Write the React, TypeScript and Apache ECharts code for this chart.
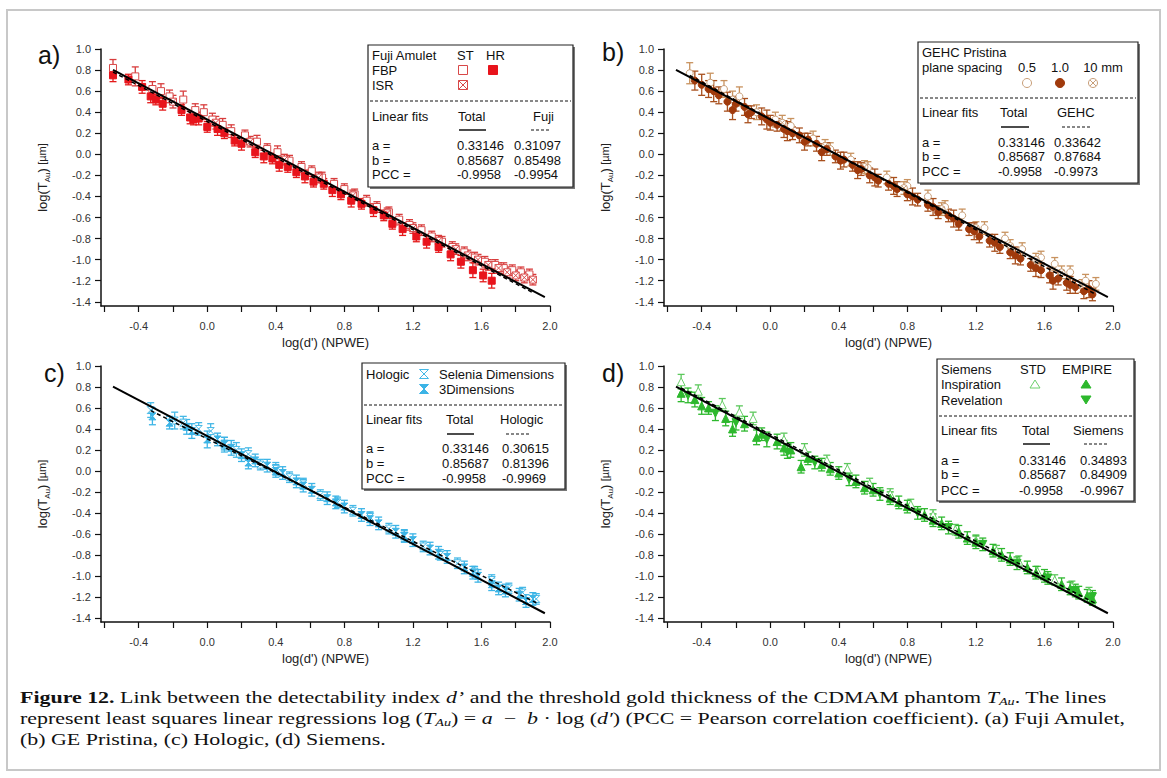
import React, { useEffect, useRef } from 'react';
import * as echarts from 'echarts';

// ---------- axis ticks ----------
const yTicks = [-1.4, -1.2, -1.0, -0.8, -0.6, -0.4, -0.2, 0, 0.2, 0.4, 0.6, 0.8, 1.0];
const xTicks = [-0.6, -0.4, -0.2, 0, 0.2, 0.4, 0.6, 0.8, 1.0, 1.2, 1.4, 1.6, 1.8, 2.0];
const xLabels = [-0.4, 0, 0.4, 0.8, 1.2, 1.6, 2.0];

// ---------- linear fits [a, b, PCC] ----------
const fitTotal = [0.33146, 0.85687, -0.9958];
const fitFuji = [0.31097, 0.85498, -0.9954];
const fitGEHC = [0.33642, 0.87684, -0.9973];
const fitHologic = [0.30615, 0.81396, -0.9969];
const fitSiemens = [0.34893, 0.84909, -0.9967];
const rangeTotal = [-0.55, 1.97];
const rangeFuji = [-0.55, 1.9];
const rangeGEHC = [-0.47, 1.9];
const rangeHologic = [-0.33, 1.92];
const rangeSiemens = [-0.52, 1.9];

// ---------- data [log(d'), log(T_Au), error] ----------
const fujiStFbp = [[-0.55,0.82,0.08],[-0.42,0.74,0.09],[-0.32,0.62,0.07],[-0.27,0.60,0.07],[-0.22,0.55,0.06],[-0.14,0.52,0.08],[-0.07,0.42,0.06],[-0.02,0.40,0.07],[0.03,0.33,0.06],[0.09,0.28,0.06],[0.14,0.22,0.06],[0.22,0.18,0.05],[0.29,0.12,0.06],[0.35,0.05,0.05],[0.41,0.02,0.06],[0.48,-0.06,0.05],[0.55,-0.12,0.05],[0.61,-0.16,0.05],[0.67,-0.22,0.05],[0.74,-0.28,0.05],[0.80,-0.33,0.05],[0.86,-0.38,0.05],[0.93,-0.44,0.05],[0.99,-0.50,0.05],[1.06,-0.55,0.05],[1.12,-0.62,0.05],[1.18,-0.67,0.05],[1.25,-0.72,0.05],[1.31,-0.78,0.05],[1.37,-0.83,0.05],[1.43,-0.88,0.05],[1.50,-0.93,0.05],[1.56,-0.98,0.05],[1.62,-1.02,0.05],[1.68,-1.05,0.05],[1.73,-1.08,0.05],[1.78,-1.10,0.05],[1.83,-1.12,0.05],[1.88,-1.14,0.05]];
const fujiStIsr = [[-0.20,0.50,0.06],[0.05,0.30,0.06],[0.25,0.12,0.05],[0.45,-0.05,0.05],[0.65,-0.22,0.05],[0.85,-0.39,0.05],[1.05,-0.56,0.05],[1.20,-0.70,0.05],[1.35,-0.82,0.05],[1.45,-0.90,0.05],[1.52,-0.96,0.05],[1.58,-1.00,0.05],[1.64,-1.05,0.05],[1.70,-1.08,0.05],[1.75,-1.12,0.05],[1.80,-1.15,0.05],[1.85,-1.17,0.05],[1.90,-1.19,0.05]];
const fujiHrFbp = [[-0.55,0.75,0.06],[-0.46,0.71,0.05],[-0.38,0.64,0.06],[-0.33,0.55,0.06],[-0.30,0.52,0.05],[-0.26,0.48,0.06],[-0.15,0.42,0.05],[-0.10,0.35,0.06],[-0.08,0.33,0.05],[-0.05,0.34,0.06],[0.00,0.26,0.05],[0.06,0.24,0.06],[0.10,0.20,0.05],[0.16,0.13,0.05],[0.20,0.10,0.06],[0.28,0.02,0.05],[0.33,-0.02,0.06],[0.38,-0.04,0.05],[0.42,-0.10,0.06],[0.47,-0.12,0.05],[0.52,-0.17,0.05],[0.57,-0.21,0.06],[0.62,-0.26,0.05],[0.68,-0.28,0.05],[0.73,-0.34,0.06],[0.78,-0.38,0.05],[0.84,-0.44,0.06],[0.90,-0.47,0.05],[0.97,-0.53,0.06],[1.03,-0.58,0.05],[1.08,-0.66,0.05],[1.14,-0.71,0.06],[1.22,-0.78,0.05],[1.28,-0.83,0.06],[1.35,-0.88,0.05],[1.42,-0.95,0.06],[1.48,-1.02,0.06],[1.55,-1.10,0.07],[1.61,-1.15,0.06],[1.66,-1.20,0.07]];

const gehc05 = [[-0.47,0.77,0.1],[-0.35,0.68,0.09],[-0.27,0.62,0.08],[-0.18,0.55,0.09],[-0.08,0.40,0.07],[0.03,0.33,0.07],[0.12,0.27,0.07],[0.25,0.15,0.07],[0.35,0.05,0.06],[0.47,-0.05,0.06],[0.57,-0.13,0.06],[0.68,-0.22,0.06],[0.80,-0.30,0.06],[0.92,-0.40,0.06],[1.02,-0.50,0.06],[1.12,-0.58,0.06],[1.25,-0.70,0.06],[1.37,-0.80,0.06],[1.47,-0.90,0.06],[1.58,-0.98,0.06],[1.66,-1.04,0.06],[1.75,-1.12,0.06],[1.84,-1.20,0.06],[1.90,-1.23,0.06]];
const gehc10mm = [[-0.22,0.52,0.08],[0.07,0.30,0.07],[0.32,0.08,0.06],[0.55,-0.12,0.06],[0.78,-0.32,0.06],[1.00,-0.52,0.06],[1.20,-0.70,0.06],[1.40,-0.87,0.06],[1.55,-1.00,0.06],[1.70,-1.12,0.06],[1.82,-1.25,0.06]];
const gehc10 = [[-0.44,0.70,0.09],[-0.40,0.66,0.1],[-0.36,0.62,0.08],[-0.33,0.60,0.1],[-0.30,0.56,0.08],[-0.25,0.50,0.09],[-0.22,0.42,0.09],[-0.20,0.48,0.07],[-0.15,0.45,0.08],[-0.13,0.38,0.08],[-0.11,0.40,0.06],[-0.05,0.36,0.08],[-0.02,0.33,0.09],[0.00,0.30,0.07],[0.04,0.28,0.06],[0.08,0.24,0.08],[0.10,0.22,0.09],[0.13,0.20,0.06],[0.17,0.18,0.07],[0.20,0.12,0.08],[0.22,0.14,0.06],[0.27,0.10,0.07],[0.30,0.02,0.08],[0.33,0.05,0.06],[0.38,-0.02,0.06],[0.41,-0.06,0.08],[0.43,-0.05,0.07],[0.48,-0.10,0.06],[0.51,-0.15,0.08],[0.53,-0.14,0.06],[0.58,-0.20,0.07],[0.61,-0.22,0.08],[0.63,-0.25,0.06],[0.69,-0.28,0.06],[0.72,-0.30,0.08],[0.74,-0.33,0.07],[0.80,-0.38,0.06],[0.83,-0.40,0.08],[0.86,-0.43,0.06],[0.92,-0.48,0.06],[0.95,-0.50,0.08],[0.98,-0.55,0.06],[1.04,-0.58,0.06],[1.07,-0.61,0.08],[1.10,-0.66,0.06],[1.16,-0.71,0.06],[1.19,-0.73,0.08],[1.22,-0.78,0.06],[1.28,-0.82,0.06],[1.31,-0.84,0.08],[1.34,-0.88,0.06],[1.40,-0.93,0.06],[1.43,-0.96,0.08],[1.46,-0.99,0.06],[1.52,-1.05,0.06],[1.55,-1.08,0.08],[1.58,-1.10,0.07],[1.63,-1.15,0.07],[1.65,-1.20,0.08],[1.68,-1.18,0.06],[1.73,-1.22,0.07],[1.75,-1.24,0.08],[1.78,-1.26,0.06],[1.83,-1.30,0.07],[1.86,-1.28,0.08],[1.88,-1.33,0.06]];

const hologicSelenia = [[-0.33,0.58,0.07],[-0.19,0.48,0.08],[-0.14,0.46,0.06],[-0.05,0.40,0.06],[0.02,0.38,0.07],[0.10,0.25,0.07],[0.17,0.20,0.07],[0.24,0.16,0.06],[0.31,0.06,0.05],[0.40,0.02,0.06],[0.48,-0.06,0.05],[0.56,-0.12,0.05],[0.66,-0.23,0.05],[0.76,-0.30,0.05],[0.85,-0.38,0.05],[0.95,-0.44,0.05],[1.06,-0.55,0.05],[1.15,-0.62,0.05],[1.26,-0.72,0.05],[1.36,-0.80,0.05],[1.46,-0.88,0.05],[1.56,-0.96,0.05],[1.66,-1.04,0.05],[1.76,-1.12,0.05],[1.84,-1.16,0.05],[1.92,-1.22,0.05]];
const hologic3D = [[-0.32,0.52,0.08],[-0.22,0.46,0.06],[-0.12,0.42,0.07],[-0.09,0.38,0.07],[0.00,0.30,0.08],[0.06,0.30,0.06],[0.10,0.26,0.06],[0.14,0.22,0.07],[0.20,0.15,0.06],[0.24,0.08,0.06],[0.28,0.10,0.06],[0.35,0.05,0.06],[0.40,0.00,0.06],[0.44,-0.02,0.06],[0.52,-0.10,0.06],[0.56,-0.14,0.06],[0.61,-0.18,0.06],[0.70,-0.26,0.06],[0.75,-0.30,0.06],[0.80,-0.34,0.06],[0.90,-0.42,0.06],[0.95,-0.46,0.06],[1.00,-0.50,0.06],[1.10,-0.58,0.06],[1.15,-0.62,0.06],[1.20,-0.66,0.06],[1.30,-0.74,0.06],[1.35,-0.78,0.06],[1.40,-0.82,0.06],[1.50,-0.92,0.06],[1.55,-0.97,0.06],[1.58,-1.00,0.06],[1.66,-1.08,0.06],[1.70,-1.12,0.06],[1.74,-1.14,0.06],[1.82,-1.18,0.06],[1.86,-1.24,0.06],[1.90,-1.22,0.06]];

const siemensStdInsp = [[-0.52,0.85,0.07],[-0.42,0.76,0.06],[-0.28,0.63,0.06],[-0.18,0.56,0.06],[-0.10,0.50,0.06],[0.08,0.30,0.06],[0.20,0.20,0.06],[0.33,0.10,0.05],[0.45,0.02,0.05],[0.58,-0.12,0.05],[0.70,-0.22,0.05],[0.82,-0.32,0.05],[0.95,-0.42,0.05],[1.08,-0.56,0.05],[1.20,-0.66,0.05],[1.32,-0.76,0.05],[1.45,-0.86,0.05],[1.56,-0.96,0.05],[1.66,-1.04,0.05],[1.76,-1.10,0.05],[1.86,-1.16,0.05]];
const siemensEmpInsp = [[-0.52,0.74,0.08],[-0.44,0.68,0.07],[-0.40,0.62,0.08],[-0.36,0.60,0.06],[-0.26,0.50,0.07],[-0.22,0.40,0.07],[-0.15,0.45,0.07],[-0.08,0.32,0.07],[-0.05,0.35,0.06],[0.04,0.28,0.07],[0.08,0.22,0.07],[0.12,0.20,0.07],[0.18,0.04,0.06],[0.22,0.12,0.06],[0.30,0.06,0.06],[0.35,0.02,0.06],[0.40,-0.02,0.06],[0.50,-0.10,0.06],[0.55,-0.16,0.06],[0.60,-0.18,0.06],[0.70,-0.26,0.06],[0.75,-0.30,0.06],[0.80,-0.34,0.06],[0.90,-0.42,0.06],[0.95,-0.47,0.06],[1.00,-0.50,0.06],[1.10,-0.58,0.06],[1.15,-0.64,0.06],[1.20,-0.68,0.06],[1.30,-0.76,0.06],[1.35,-0.80,0.06],[1.40,-0.84,0.06],[1.50,-0.92,0.06],[1.55,-0.97,0.06],[1.60,-1.00,0.06],[1.70,-1.08,0.06],[1.75,-1.12,0.06],[1.80,-1.16,0.06],[1.85,-1.19,0.06],[1.88,-1.22,0.06]];
const siemensEmpRev = [[-0.48,0.72,0.07],[-0.32,0.55,0.07],[-0.20,0.46,0.07],[-0.02,0.30,0.07],[0.10,0.18,0.06],[0.26,0.08,0.06],[0.46,-0.08,0.06],[0.64,-0.22,0.06],[0.86,-0.40,0.06],[1.04,-0.54,0.06],[1.24,-0.70,0.06],[1.44,-0.88,0.06],[1.62,-1.02,0.06],[1.78,-1.14,0.06],[1.88,-1.20,0.06]];

// ---------- styles ----------
const SANS = 'Liberation Sans, Arial, sans-serif';
const SERIF = 'Liberation Serif, Times New Roman, serif';
const CROSS_RECT = 'path://M0,0H10V10H0Z M0,0L10,10 M10,0L0,10';
const CROSS_CIRCLE = 'path://M0,5A5,5 0 1,1 10,5A5,5 0 1,1 0,5Z M1.5,1.5L8.5,8.5 M8.5,1.5L1.5,8.5';
const HOURGLASS = 'path://M0,0L10,0L0,10L10,10Z';

const panels = [
  {
    grid: { left: 101, top: 49, width: 449, height: 257 },
    groups: [
      { data: fujiStFbp, symbol: 'rect', size: 7, fill: '#ffffff', stroke: '#d84848', err: '#d83c3c' },
      { data: fujiStIsr, symbol: CROSS_RECT, size: 7, fill: '#ffffff', stroke: '#d84848', err: '#d83c3c' },
      { data: fujiHrFbp, symbol: 'rect', size: 7, fill: '#e8141c', stroke: '#e8141c', err: '#e41a1a' },
    ],
    fit: fitFuji, fitRange: rangeFuji,
  },
  {
    grid: { left: 664, top: 49, width: 449, height: 257 },
    groups: [
      { data: gehc05, symbol: 'circle', size: 7, fill: '#ffffff', stroke: '#c89e78', err: '#c8925e' },
      { data: gehc10mm, symbol: CROSS_CIRCLE, size: 7, fill: '#ffffff', stroke: '#c89e78', err: '#c8925e' },
      { data: gehc10, symbol: 'circle', size: 7, fill: '#a03a0c', stroke: '#a03a0c', err: '#a8501e' },
    ],
    fit: fitGEHC, fitRange: rangeGEHC,
  },
  {
    grid: { left: 101, top: 366, width: 449, height: 256 },
    groups: [
      { data: hologicSelenia, symbol: HOURGLASS, size: 7, fill: '#ffffff', stroke: '#45b8e6', err: '#45b8e6' },
      { data: hologic3D, symbol: HOURGLASS, size: 7, fill: '#3cb4e6', stroke: '#3cb4e6', err: '#3cb4e6' },
    ],
    fit: fitHologic, fitRange: rangeHologic,
  },
  {
    grid: { left: 664, top: 366, width: 449, height: 256 },
    groups: [
      { data: siemensStdInsp, symbol: 'triangle', size: 8, fill: '#ffffff', stroke: '#6ccf6c', err: '#5cc85c' },
      { data: siemensEmpInsp, symbol: 'triangle', size: 8, fill: '#2db82d', stroke: '#2db82d', err: '#2db82d' },
      { data: siemensEmpRev, symbol: 'triangle', rotate: 180, size: 8, fill: '#2db82d', stroke: '#2db82d', err: '#2db82d' },
    ],
    fit: fitSiemens, fitRange: rangeSiemens,
  },
];

const fmt = (v: number) => (Math.abs(v) < 1e-9 ? '0.0' : v.toFixed(1));

function fitLine(fit: number[], range: number[]) {
  return range.map((x) => [x, fit[0] - fit[1] * x]);
}

// ---------- graphic helpers ----------
function txt(x: number, y: number, s: string, align = 'left', size = 13) {
  return {
    type: 'text', x, y, z: 100,
    style: { text: s, fontSize: size, fontFamily: SANS, fill: '#111', align, verticalAlign: 'middle' },
  };
}
function box(x: number, y: number, w: number, h: number) {
  return [
    { type: 'rect', z: 98, shape: { x: x + 2, y: y + 2, width: w, height: h }, style: { fill: '#777' } },
    { type: 'rect', z: 99, shape: { x, y, width: w, height: h }, style: { fill: '#fff', stroke: '#222', lineWidth: 1.2 } },
  ];
}
function hl(x1: number, x2: number, y: number, dash = false, w = 1) {
  return {
    type: 'line', z: 100, shape: { x1, y1: y, x2, y2: y },
    style: { stroke: '#111', lineWidth: w, lineDash: dash ? [3, 2] : null },
  };
}
function sq(cx: number, cy: number, fill: string, stroke: string, cross = false) {
  const s = 4.5;
  const els: any[] = [{ type: 'rect', z: 100, shape: { x: cx - s, y: cy - s, width: 2 * s, height: 2 * s }, style: { fill, stroke, lineWidth: 1 } }];
  if (cross) {
    els.push({ type: 'line', z: 101, shape: { x1: cx - s, y1: cy - s, x2: cx + s, y2: cy + s }, style: { stroke, lineWidth: 1 } });
    els.push({ type: 'line', z: 101, shape: { x1: cx + s, y1: cy - s, x2: cx - s, y2: cy + s }, style: { stroke, lineWidth: 1 } });
  }
  return els;
}
function circ(cx: number, cy: number, fill: string, stroke: string, cross = false) {
  const r = 4.5;
  const els: any[] = [{ type: 'circle', z: 100, shape: { cx, cy, r }, style: { fill, stroke, lineWidth: 1 } }];
  if (cross) {
    const d = r * 0.7;
    els.push({ type: 'line', z: 101, shape: { x1: cx - d, y1: cy - d, x2: cx + d, y2: cy + d }, style: { stroke, lineWidth: 1 } });
    els.push({ type: 'line', z: 101, shape: { x1: cx + d, y1: cy - d, x2: cx - d, y2: cy + d }, style: { stroke, lineWidth: 1 } });
  }
  return els;
}
function hourglass(cx: number, cy: number, fill: string, stroke: string) {
  const s = 4.5;
  return [{ type: 'polygon', z: 100, shape: { points: [[cx - s, cy - s], [cx + s, cy - s], [cx - s, cy + s], [cx + s, cy + s]] }, style: { fill, stroke, lineWidth: 1 } }];
}
function tri(cx: number, cy: number, fill: string, stroke: string, down = false) {
  const s = 5;
  const pts = down
    ? [[cx - s, cy - s * 0.8], [cx + s, cy - s * 0.8], [cx, cy + s * 0.8]]
    : [[cx - s, cy + s * 0.8], [cx + s, cy + s * 0.8], [cx, cy - s * 0.8]];
  return [{ type: 'polygon', z: 100, shape: { points: pts }, style: { fill, stroke, lineWidth: 1 } }];
}
function fitRows(x0: number, c1: number, c2: number, ys: number[], fit: number[]) {
  return [
    txt(x0, ys[0], 'a ='), txt(c1, ys[0], fitTotal[0].toFixed(5)), txt(c2, ys[0], fit[0].toFixed(5)),
    txt(x0, ys[1], 'b ='), txt(c1, ys[1], fitTotal[1].toFixed(5)), txt(c2, ys[1], fit[1].toFixed(5)),
    txt(x0, ys[2], 'PCC ='), txt(c1, ys[2], fitTotal[2].toFixed(4)), txt(c2, ys[2], fit[2].toFixed(4)),
  ];
}

function buildGraphics() {
  const g: any[] = [];
  // outer frame
  g.push({ type: 'rect', z: 0, shape: { x: 7, y: 10, width: 1153, height: 760 }, style: { fill: 'none', stroke: '#c8c8c8', lineWidth: 2 } });
  // panel letters
  g.push(txt(38, 55, 'a)', 'left', 25));
  g.push(txt(602, 52, 'b)', 'left', 25));
  g.push(txt(44, 373, 'c)', 'left', 25));
  g.push(txt(602, 373, 'd)', 'left', 25));

  // legend a
  g.push(...box(368, 45, 205, 142));
  g.push(txt(372, 55, 'Fuji Amulet'), txt(457, 55, 'ST'), txt(486, 55, 'HR'));
  g.push(txt(372, 70, 'FBP'), ...sq(463, 70, '#fff', '#d84848'), ...sq(493, 70, '#e8141c', '#e8141c'));
  g.push(txt(372, 85, 'ISR'), ...sq(463, 85, '#fff', '#d84848', true));
  g.push(hl(370, 571, 101, true));
  g.push(txt(372, 116, 'Linear fits'), txt(458, 116, 'Total'), txt(533, 116, 'Fuji'));
  g.push(hl(459, 486, 130, false, 1.5), hl(531, 551, 130, true, 1.2));
  g.push(...fitRows(372, 457, 514, [145, 160, 174], fitFuji));

  // legend b
  g.push(...box(918, 42, 220, 141));
  g.push(txt(922, 52, 'GEHC Pristina'));
  g.push(txt(922, 67, 'plane spacing'), txt(1027, 67, '0.5', 'center'), txt(1060, 67, '1.0', 'center'), txt(1103, 67, '10 mm', 'center'));
  g.push(...circ(1027, 83, '#fff', '#c89e78'), ...circ(1060, 83, '#a03a0c', '#a03a0c'), ...circ(1093, 83, '#fff', '#c89e78', true));
  g.push(hl(920, 1136, 98, true));
  g.push(txt(922, 112, 'Linear fits'), txt(1000, 112, 'Total'), txt(1057, 112, 'GEHC'));
  g.push(hl(1001, 1029, 127, false, 1.5), hl(1062, 1090, 127, true, 1.2));
  g.push(...fitRows(922, 998, 1054, [142, 156, 171], fitGEHC));

  // legend c
  g.push(...box(362, 363, 203, 126));
  g.push(txt(366, 374, 'Hologic'), ...hourglass(424, 374, '#fff', '#45b8e6'), txt(439, 374, 'Selenia Dimensions'));
  g.push(...hourglass(424, 389, '#3cb4e6', '#3cb4e6'), txt(439, 389, '3Dimensions'));
  g.push(hl(364, 563, 405, true));
  g.push(txt(366, 419, 'Linear fits'), txt(446, 419, 'Total'), txt(500, 419, 'Hologic'));
  g.push(hl(447, 474, 434, false, 1.5), hl(506, 530, 434, true, 1.2));
  g.push(...fitRows(366, 442, 502, [448, 463, 478], fitHologic));

  // legend d
  g.push(...box(937, 359, 197, 142));
  g.push(txt(941, 369, 'Siemens'), txt(1033, 369, 'STD', 'center'), txt(1087, 369, 'EMPIRE', 'center'));
  g.push(txt(941, 384, 'Inspiration'), ...tri(1035, 384, '#fff', '#6ccf6c'), ...tri(1086, 384, '#2db82d', '#2db82d'));
  g.push(txt(941, 400, 'Revelation'), ...tri(1086, 400, '#2db82d', '#2db82d', true));
  g.push(hl(939, 1132, 416, true));
  g.push(txt(941, 430, 'Linear fits'), txt(1022, 430, 'Total'), txt(1073, 430, 'Siemens'));
  g.push(hl(1023, 1050, 444, false, 1.5), hl(1084, 1108, 444, true, 1.2));
  g.push(...fitRows(941, 1019, 1080, [460, 474, 490], fitSiemens));

  // caption
  const rich = {
    b: { fontWeight: 'bold', fontSize: 17, fontFamily: SERIF, fill: '#111' },
    i: { fontStyle: 'italic', fontSize: 17, fontFamily: SERIF, fill: '#111' },
    s: { fontStyle: 'italic', fontSize: 11, fontFamily: SERIF, fill: '#111', verticalAlign: 'bottom', lineHeight: 12 },
  };
  const capLines = [
    '{b|Figure 12.} Link between the detectability index {i|d’} and the threshold gold thickness of the CDMAM phantom {i|T}{s|Au}. The lines',
    'represent least squares linear regressions log ({i|T}{s|Au}) = {i|a}  −  {i|b} · log ({i|d′}) (PCC = Pearson correlation coefficient). (a) Fuji Amulet,',
    '(b) GE Pristina, (c) Hologic, (d) Siemens.',
  ];
  capLines.forEach((t, k) => {
    g.push({
      type: 'text', x: 20, y: 697 + k * 21, z: 100, scaleX: 1.29,
      style: { text: t, rich, fontSize: 17, fontFamily: SERIF, fill: '#111', verticalAlign: 'middle', lineHeight: 21 },
    });
  });
  return g;
}

function buildOption() {
  const grid: any[] = [];
  const xAxis: any[] = [];
  const yAxis: any[] = [];
  const series: any[] = [];
  panels.forEach((p, i) => {
    grid.push({ ...p.grid, containLabel: false });
    xAxis.push({
      gridIndex: i, type: 'value', min: -0.62, max: 2.0,
      axisLine: { show: true, onZero: false, lineStyle: { color: '#111', width: 1.5 } },
      axisTick: { show: true, customValues: xTicks, length: 6, lineStyle: { color: '#111', width: 1.2 } },
      axisLabel: { customValues: xLabels, formatter: fmt, color: '#333', fontSize: 11, fontFamily: SANS, margin: 14 },
      splitLine: { show: false },
      name: "log(d') (NPWE)", nameLocation: 'middle', nameGap: 30,
      nameTextStyle: { color: '#222', fontSize: 13, fontFamily: SANS },
    });
    yAxis.push({
      gridIndex: i, type: 'value', min: -1.44, max: 1.0,
      axisLine: { show: true, onZero: false, lineStyle: { color: '#111', width: 1.5 } },
      axisTick: { show: true, customValues: yTicks, length: 6, lineStyle: { color: '#111', width: 1.2 } },
      axisLabel: { customValues: yTicks, formatter: fmt, color: '#333', fontSize: 11, fontFamily: SANS, margin: 10 },
      splitLine: { show: false },
      name: '{a|log(T}{s|Au}{a|)} {u|[µm]}', nameLocation: 'middle', nameGap: 50, nameRotate: 90,
      nameTextStyle: {
        color: '#222', fontFamily: SANS,
        rich: {
          a: { fontSize: 13, fontFamily: SANS, color: '#222', lineHeight: 18 },
          s: { fontSize: 8, fontFamily: SANS, color: '#222', verticalAlign: 'bottom', lineHeight: 10 },
          u: { fontSize: 11, fontFamily: SANS, color: '#222', lineHeight: 18 },
        },
      },
    });
    p.groups.forEach((gr: any) => {
      const errColor = gr.err;
      series.push({
        type: 'custom', xAxisIndex: i, yAxisIndex: i, data: gr.data, encode: { x: 0, y: 1 }, z: 2, silent: true,
        renderItem: (params: any, api: any) => {
          const x = api.value(0), y = api.value(1), e = api.value(2);
          const t = api.coord([x, y + e]);
          const b = api.coord([x, y - e]);
          const hw = 3.5;
          const st = { stroke: errColor, lineWidth: 1.3 };
          return {
            type: 'group',
            children: [
              { type: 'line', shape: { x1: t[0], y1: t[1], x2: b[0], y2: b[1] }, style: st },
              { type: 'line', shape: { x1: t[0] - hw, y1: t[1], x2: t[0] + hw, y2: t[1] }, style: st },
              { type: 'line', shape: { x1: b[0] - hw, y1: b[1], x2: b[0] + hw, y2: b[1] }, style: st },
            ],
          };
        },
      });
    });
    p.groups.forEach((gr: any) => {
      series.push({
        type: 'scatter', xAxisIndex: i, yAxisIndex: i, data: gr.data, encode: { x: 0, y: 1 }, z: 3, silent: true,
        symbol: gr.symbol, symbolSize: gr.size, symbolRotate: gr.rotate || 0,
        itemStyle: { color: gr.fill, borderColor: gr.stroke, borderWidth: 1, opacity: 1 },
      });
    });
    series.push({
      type: 'line', xAxisIndex: i, yAxisIndex: i, data: fitLine(p.fit, p.fitRange), z: 5, silent: true,
      showSymbol: false, symbol: 'none', lineStyle: { color: '#000', width: 1.5, type: [4, 3] },
    });
    series.push({
      type: 'line', xAxisIndex: i, yAxisIndex: i, data: fitLine(fitTotal, rangeTotal), z: 6, silent: true,
      showSymbol: false, symbol: 'none', lineStyle: { color: '#000', width: 2 },
    });
  });
  return {
    animation: false,
    backgroundColor: '#ffffff',
    grid, xAxis, yAxis, series,
    graphic: buildGraphics(),
  };
}

export default function App() {
  const ref = useRef<HTMLDivElement>(null);
  useEffect(() => {
    if (!ref.current) return;
    const chart = echarts.init(ref.current, null, { renderer: 'svg' });
    chart.setOption(buildOption() as any);
    return () => chart.dispose();
  }, []);
  return <div ref={ref} style={{ position: 'absolute', left: 0, top: 0, width: 1167, height: 778 }} />;
}
